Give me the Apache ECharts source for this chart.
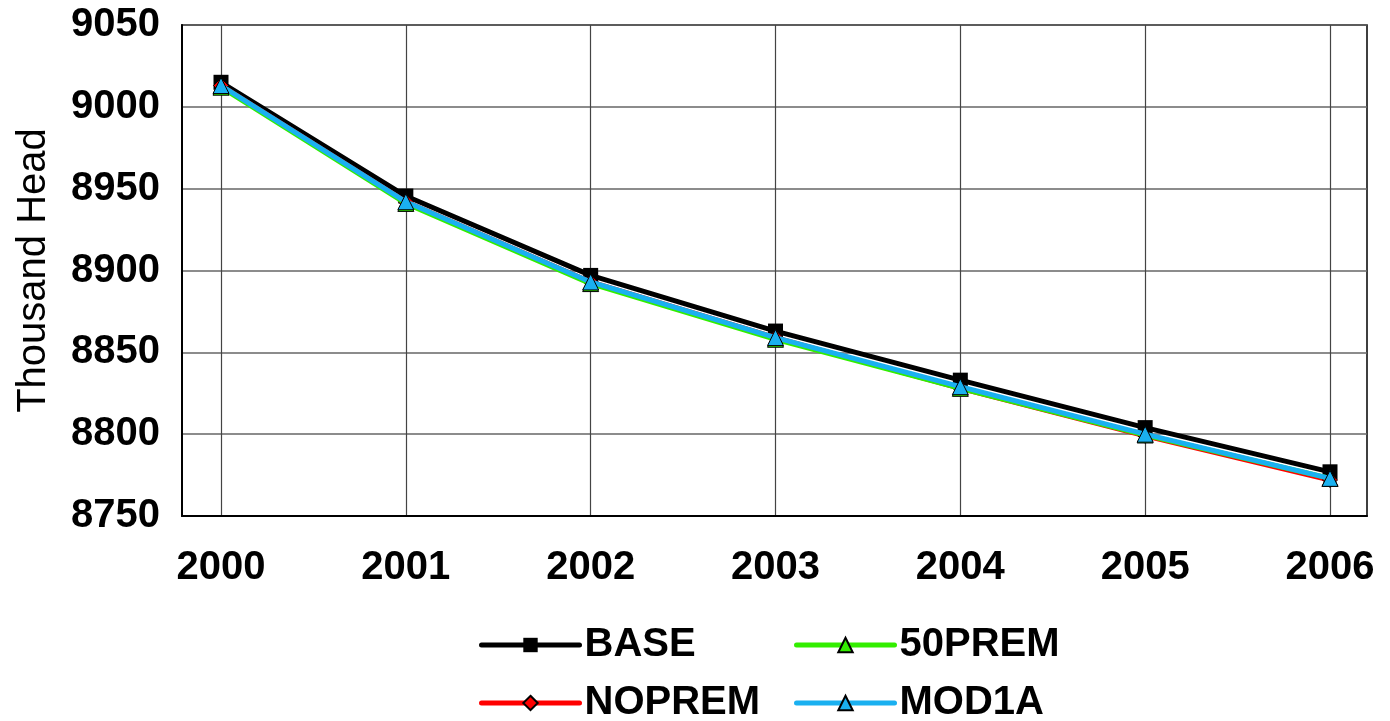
<!DOCTYPE html>
<html><head><meta charset="utf-8">
<script src="https://cdn.jsdelivr.net/npm/echarts@6/dist/echarts.min.js"></script>
<style>html,body{margin:0;padding:0;background:#fff}#c{width:1390px;height:721px}</style>
</head><body><div id="c"></div>
<script>
const years = ['2000','2001','2002','2003','2004','2005','2006'];
const yTicks = [8750, 8800, 8850, 8900, 8950, 9000, 9050];
const base   = [9015, 8945.5, 8897, 8863, 8833, 8804, 8777];
const noprem = [9013, 8942, 8893, 8859, 8828, 8799, 8772];
const prem50 = [9012, 8941, 8892, 8858, 8828, 8799.5, 8773];
const mod1a  = [9013, 8942, 8893, 8859, 8829, 8800, 8773];

const FONT = 'Liberation Sans, Arial, sans-serif';
const chart = echarts.init(document.getElementById('c'), null, {renderer: 'canvas'});
const yMin = yTicks[0], yMax = yTicks[yTicks.length - 1], yStep = yTicks[1] - yTicks[0];

function mk(name, data, color, symbol, size, z) {
  return {
    name, type: 'line', data, xAxisIndex: 1, yAxisIndex: 1, z,
    symbol, symbolSize: size, showAllSymbol: true,
    lineStyle: {color, width: 5},
    itemStyle: {color, borderColor: '#000', borderWidth: symbol === 'rect' ? 0 : 1},
    animation: false
  };
}
function lg(name, left, top) {
  return {
    left, top, itemWidth: 98, itemHeight: 18, itemGap: 0, data: [name],
    lineStyle: {width: 5, cap: 'round'},
    textStyle: {color: '#000', fontSize: 40, fontWeight: 'bold', fontFamily: FONT}
  };
}

chart.setOption({
  animation: false,
  textStyle: {fontFamily: FONT},
  grid: [
    {left: 182, right: 23, top: 25, bottom: 205, show: true, borderColor: '#000', borderWidth: 1.5, containLabel: false},
    {left: 221, right: 60, top: 25, bottom: 205, containLabel: false}
  ],
  xAxis: [
    {gridIndex: 0, type: 'value', min: 0, max: 1, axisLine: {show: true, lineStyle: {color: '#000', width: 2}},
     axisTick: {show: false}, axisLabel: {show: false}, splitLine: {show: false}},
    {gridIndex: 1, type: 'category', data: years, boundaryGap: false,
     axisLine: {show: false}, axisTick: {show: false},
     axisLabel: {color: '#000', fontSize: 40, fontWeight: 'bold', fontFamily: FONT, margin: 32, interval: 0},
     splitLine: {show: true, lineStyle: {color: '#444', width: 1.2}}}
  ],
  yAxis: [
    {gridIndex: 0, type: 'value', min: yMin, max: yMax, interval: yStep,
     name: 'Thousand Head', nameLocation: 'middle', nameGap: 128,
     nameTextStyle: {color: '#000', fontSize: 40, fontFamily: FONT},
     axisLine: {show: true, lineStyle: {color: '#000', width: 2}},
     axisTick: {show: false},
     axisLabel: {color: '#000', fontSize: 40, fontWeight: 'bold', fontFamily: FONT, margin: 22,
                 formatter: v => String(v)},
     splitLine: {show: true, lineStyle: {color: '#666', width: 1.5}}},
    {gridIndex: 1, type: 'value', min: yMin, max: yMax, interval: yStep, show: false, splitLine: {show: false}}
  ],
  legend: [
    lg('BASE', 474, 620),
    lg('NOPREM', 474, 678),
    lg('50PREM', 789, 620),
    lg('MOD1A', 789, 678)
  ],
  series: [
    mk('BASE', base, '#000000', 'rect', 15, 2),
    mk('NOPREM', noprem, '#ff0000', 'diamond', 15, 3),
    mk('50PREM', prem50, '#33ee00', 'triangle', 16, 4),
    mk('MOD1A', mod1a, '#1ab0f0', 'triangle', 16, 5)
  ]
});
</script></body></html>
